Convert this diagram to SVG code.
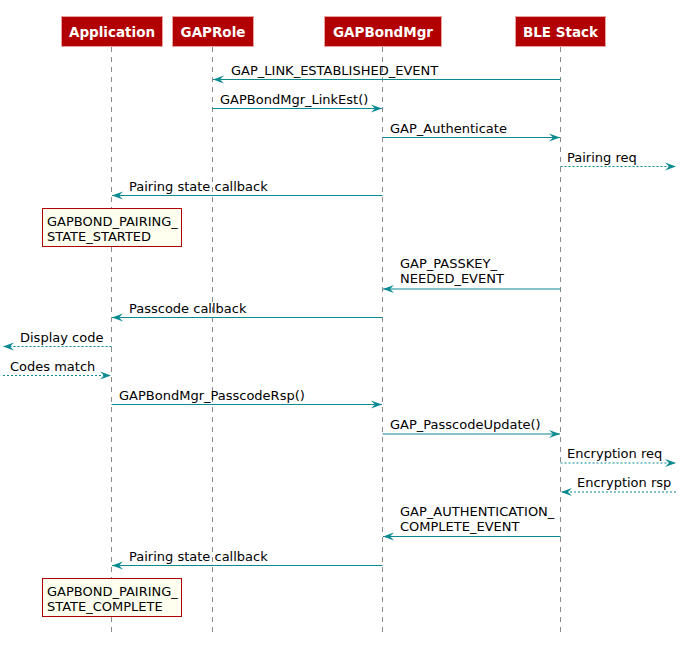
<svg xmlns="http://www.w3.org/2000/svg" width="700" height="670" viewBox="0 0 700 670">
<defs>
<style>
.hdr{fill:#B20000;stroke:#E8A0A0;stroke-width:1}
.ht{font-family:"DejaVu Sans",sans-serif;font-weight:bold;font-size:13.5px;fill:#ffffff;text-anchor:middle}
.life{stroke:#8a8a8a;stroke-width:1;stroke-dasharray:5,5;fill:none}
.msg{stroke:#0B8A92;stroke-width:1.2;fill:none}
.dot{stroke:#0B8A92;stroke-width:1.2;fill:none;stroke-dasharray:2,2}
.t{font-family:"DejaVu Sans",sans-serif;font-size:13px;fill:#000000}
.note{fill:#FEFFEE;stroke:#B20000;stroke-width:1}
</style>
<marker id="ah" viewBox="0 0 12 10" refX="11" refY="5" markerWidth="12" markerHeight="10" markerUnits="userSpaceOnUse" orient="auto">
<polygon points="0,1 11,5 0,9 4,5" fill="#0B8A92"/>
</marker>
</defs>
<rect width="700" height="670" fill="#ffffff"/>
<g id="lifelines">
<line class="life" x1="111.5" y1="47" x2="111.5" y2="633"/>
<line class="life" x1="212.5" y1="47" x2="212.5" y2="633"/>
<line class="life" x1="382.5" y1="47" x2="382.5" y2="633"/>
<line class="life" x1="560.5" y1="47" x2="560.5" y2="633"/>
</g>
<g id="Application"><rect class="hdr" x="61.5" y="16.5" width="101" height="30"/><text class="ht" x="112" y="36.5">Application</text></g>
<g id="GAPRole"><rect class="hdr" x="172.5" y="16.5" width="81" height="30"/><text class="ht" x="213" y="36.5">GAPRole</text></g>
<g id="GAPBondMgr"><rect class="hdr" x="324.5" y="16.5" width="117" height="30"/><text class="ht" x="383" y="36.5">GAPBondMgr</text></g>
<g id="BLEStack"><rect class="hdr" x="515.5" y="16.5" width="90" height="30"/><text class="ht" x="560.5" y="36.5">BLE Stack</text></g>
<g id="connectors">
<line class="msg" x1="560.5" y1="79.5" x2="213" y2="79.5" marker-end="url(#ah)"/>
<text class="t" x="231" y="74.5">GAP_LINK_ESTABLISHED_EVENT</text>
<line class="msg" x1="212.5" y1="108.5" x2="382" y2="108.5" marker-end="url(#ah)"/>
<text class="t" x="220" y="103.5">GAPBondMgr_LinkEst()</text>
<line class="msg" x1="382.5" y1="137.5" x2="560" y2="137.5" marker-end="url(#ah)"/>
<text class="t" x="390" y="132.5">GAP_Authenticate</text>
<line class="dot" x1="560.5" y1="166.5" x2="676" y2="166.5" marker-end="url(#ah)"/>
<text class="t" x="567" y="161.5">Pairing req</text>
<line class="msg" x1="382.5" y1="195.5" x2="112" y2="195.5" marker-end="url(#ah)"/>
<text class="t" x="129" y="190.5">Pairing state callback</text>
<line class="msg" x1="560.5" y1="289" x2="383" y2="289" marker-end="url(#ah)"/>
<text class="t" x="400" y="268">GAP_PASSKEY_</text>
<text class="t" x="400" y="283">NEEDED_EVENT</text>
<line class="msg" x1="382.5" y1="317.5" x2="112" y2="317.5" marker-end="url(#ah)"/>
<text class="t" x="129" y="312.5">Passcode callback</text>
<line class="dot" x1="111.5" y1="346.5" x2="3" y2="346.5" marker-end="url(#ah)"/>
<text class="t" x="20" y="341.5">Display code</text>
<line class="dot" x1="3" y1="375.5" x2="111" y2="375.5" marker-end="url(#ah)"/>
<text class="t" x="10" y="370.5">Codes match</text>
<line class="msg" x1="111.5" y1="404.5" x2="382" y2="404.5" marker-end="url(#ah)"/>
<text class="t" x="119" y="399.5">GAPBondMgr_PasscodeRsp()</text>
<line class="msg" x1="382.5" y1="434" x2="560" y2="434" marker-end="url(#ah)"/>
<text class="t" x="390" y="429">GAP_PasscodeUpdate()</text>
<line class="dot" x1="560.5" y1="463" x2="676" y2="463" marker-end="url(#ah)"/>
<text class="t" x="567" y="458">Encryption req</text>
<line class="dot" x1="676" y1="492" x2="561" y2="492" marker-end="url(#ah)"/>
<text class="t" x="577" y="487">Encryption rsp</text>
<line class="msg" x1="560.5" y1="536.5" x2="383" y2="536.5" marker-end="url(#ah)"/>
<text class="t" x="400" y="516">GAP_AUTHENTICATION_</text>
<text class="t" x="400" y="531">COMPLETE_EVENT</text>
<line class="msg" x1="382.5" y1="565.5" x2="112" y2="565.5" marker-end="url(#ah)"/>
<text class="t" x="129" y="560.5">Pairing state callback</text>
</g>
<g id="note1"><rect class="note" x="42.5" y="208.5" width="139" height="38"/><text class="t" x="47" y="226">GAPBOND_PAIRING_</text><text class="t" x="47" y="240.5">STATE_STARTED</text></g>
<g id="note2"><rect class="note" x="42.5" y="578.5" width="139" height="38"/><text class="t" x="47" y="596">GAPBOND_PAIRING_</text><text class="t" x="47" y="610.5">STATE_COMPLETE</text></g>
</svg>
